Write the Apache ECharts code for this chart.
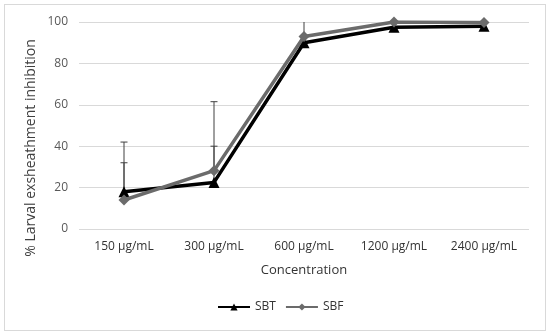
<!DOCTYPE html>
<html>
<head>
<meta charset="utf-8">
<script src="https://cdn.jsdelivr.net/npm/echarts@6/dist/echarts.min.js"></script>
<style>
html,body{margin:0;padding:0;background:#fff;}
#frame{position:absolute;left:4px;top:4px;width:540px;height:325px;border:1px solid #d9d9d9;box-sizing:content-box;}
#chart{position:absolute;left:0;top:0;width:550px;height:335px;}
</style>
</head>
<body>
<div id="frame"></div>
<div id="chart"></div>
<script>
const categories = ['150 μg/mL', '300 μg/mL', '600 μg/mL', '1200 μg/mL', '2400 μg/mL'];
const sbtValues = [18, 22.5, 90, 97.5, 98];
const sbfValues = [14, 28.2, 93, 100, 99.8];
const sbtErrors = [24, 17.5, 0, 0, 0];
const sbfErrors = [18, 33.3, 10, 0, 0];
const yTicks = [0, 20, 40, 60, 80, 100];
const yAxisTitle = '% Larval exsheathment inhibition';

const yMax = yTicks[yTicks.length - 1];

function errData(values, errors) {
  return values.map((v, i) => [i, v, errors[i]]);
}

function renderErr(params, api) {
  const idx = api.value(0);
  const v = api.value(1);
  const e = api.value(2);
  if (!e) return null;
  const top = Math.min(v + e, yMax);
  const p0 = api.coord([idx, v]);
  const p1 = api.coord([idx, top]);
  const children = [{
    type: 'line',
    shape: {x1: p0[0], y1: p0[1], x2: p1[0], y2: p1[1]},
    style: {stroke: '#404040', lineWidth: 1}
  }];
  if (v + e <= yMax) {
    children.push({
      type: 'line',
      shape: {x1: p1[0] - 3.5, y1: p1[1], x2: p1[0] + 3.5, y2: p1[1]},
      style: {stroke: '#404040', lineWidth: 1}
    });
  }
  return {type: 'group', children: children};
}

const chart = echarts.init(document.getElementById('chart'), null, {renderer: 'canvas'});
chart.setOption({
  animation: false,
  backgroundColor: 'transparent',
  textStyle: {fontFamily: 'Open Sans'},
  grid: {left: 79, right: 21, top: 22, bottom: 106},
  graphic: [{
    type: 'text',
    x: 31,
    y: 148,
    rotation: Math.PI / 2,
    style: {
      text: yAxisTitle,
      fontSize: 14,
      fontFamily: 'Open Sans',
      fill: '#404040',
      align: 'center',
      verticalAlign: 'middle'
    }
  }],
  legend: {
    left: 212,
    bottom: 17,
    itemWidth: 32,
    itemHeight: 9,
    itemGap: 9,
    textStyle: {fontSize: 12, color: '#333', fontFamily: 'Open Sans'},
    data: ['SBT', 'SBF']
  },
  xAxis: {
    type: 'category',
    data: categories,
    boundaryGap: true,
    axisLine: {show: false},
    axisTick: {show: false},
    axisLabel: {fontSize: 12, color: '#333', margin: 12},
    name: 'Concentration',
    nameLocation: 'middle',
    nameGap: 35,
    nameTextStyle: {fontSize: 13, color: '#333'}
  },
  yAxis: {
    type: 'value',
    min: 0,
    max: yMax,
    interval: 20,
    axisLine: {show: false},
    axisTick: {show: false},
    splitLine: {lineStyle: {color: '#d9d9d9', width: 1}},
    axisLabel: {fontSize: 12, color: '#595959', margin: 11}
  },
  series: [
    {
      type: 'custom',
      name: 'errSBT',
      renderItem: renderErr,
      data: errData(sbtValues, sbtErrors),
      z: 1,
      silent: true,
      encode: {x: 0, y: 1}
    },
    {
      type: 'custom',
      name: 'errSBF',
      renderItem: renderErr,
      data: errData(sbfValues, sbfErrors),
      z: 1,
      silent: true,
      encode: {x: 0, y: 1}
    },
    {
      name: 'SBT',
      type: 'line',
      data: sbtValues,
      symbol: 'triangle',
      symbolSize: 11,
      lineStyle: {color: '#000', width: 3.5},
      itemStyle: {color: '#000'},
      z: 3
    },
    {
      name: 'SBF',
      type: 'line',
      data: sbfValues,
      symbol: 'diamond',
      symbolSize: 11,
      lineStyle: {color: '#6b6b6b', width: 3.5},
      itemStyle: {color: '#6b6b6b'},
      z: 4
    }
  ]
});
</script>
</body>
</html>
